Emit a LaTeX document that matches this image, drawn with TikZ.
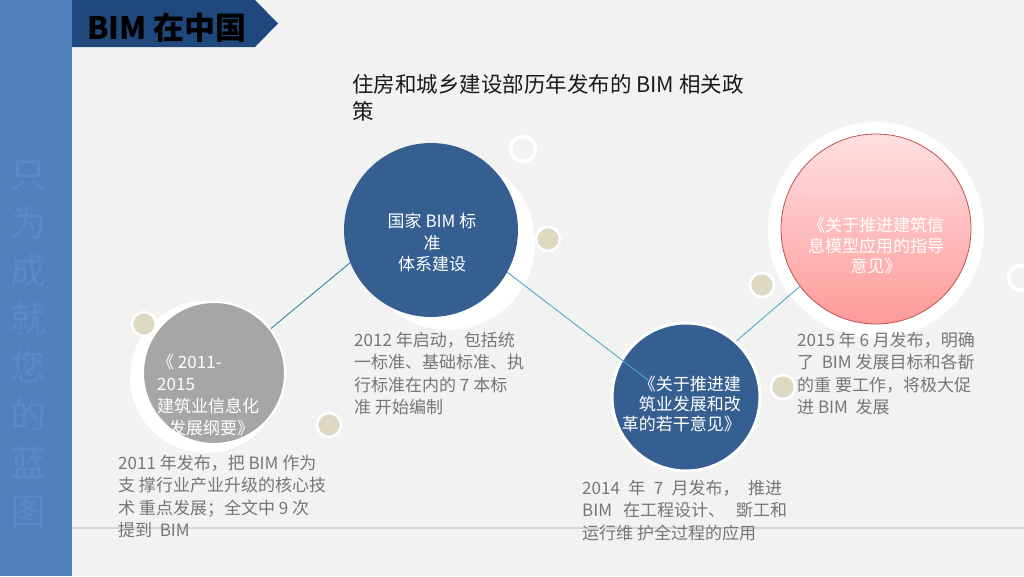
\documentclass[tikz,border=0pt]{standalone}
\usepackage{fontspec}
\setmainfont{Noto Sans CJK SC}
\definecolor{bg}{HTML}{F2F2F2}
\definecolor{stripblue}{HTML}{4F81BD}
\definecolor{bannerblue}{HTML}{1F497D}
\definecolor{vtext}{HTML}{5889CC}
\definecolor{circblue}{HTML}{365F91}
\definecolor{circgray}{HTML}{A6A6A6}
\definecolor{beige}{HTML}{DDD9C3}
\definecolor{pinktop}{HTML}{FFE0E0}
\definecolor{pinkbot}{HTML}{FF9A9A}
\definecolor{pinkborder}{HTML}{C0504D}
\definecolor{lineteal}{HTML}{4BACC6}
\definecolor{linedark}{HTML}{31859C}
\definecolor{txtgray}{HTML}{767676}
\definecolor{subtxt}{HTML}{1A1A1A}
\definecolor{sepline}{HTML}{D6D6D6}
\begin{document}
\begin{tikzpicture}[x=1pt,y=-1pt,
  dot/.style={circle,inner sep=0pt,minimum size=24pt,fill=beige,draw=white,line width=2.5pt},
  ring/.style={circle,inner sep=0pt,minimum size=25pt,draw=white,line width=3.5pt},
  halo/.style={circle,inner sep=0pt,fill=white},
  bigc/.style={circle,inner sep=0pt},
  desc/.style={font=\fontsize{17}{22.5}\selectfont,text=txtgray,align=left,inner sep=0pt,anchor=north west},
  lab/.style={text=white,inner sep=0pt},
  conn/.style={line width=0.9pt}]
\useasboundingbox (0,0) rectangle (1024,576);
\fill[bg] (0,0) rectangle (1024,576);
% left strip and banner
\fill[stripblue] (0,0) rectangle (72,576);
\fill[bannerblue] (72,0) -- (255,0) -- (278,23.5) -- (255,47) -- (72,47) -- cycle;
\node[font=\fontsize{36}{48}\selectfont,text=vtext,align=center,inner sep=0pt] (vt) at (28,344) {只\\为\\成\\就\\您\\的\\蓝\\图};
\node[anchor=base west,inner sep=0pt,font=\bfseries\fontsize{31}{36}\selectfont,text=black] (title) at (87,39) {BIM 在中国};
% separator line
\draw[sepline,line width=2pt] (72,528) -- (1024,528);
% subtitle
\node[anchor=north west,inner sep=0pt,font=\fontsize{21.5}{27}\selectfont,text=subtxt,align=left] (sub) at (352,74.5) {住房和城乡建设部历年发布的 BIM 相关政\\策};
% halos
\node[halo,minimum size=152pt] (gh) at (206,377) {};
\node[halo,minimum size=174pt] (b1h) at (448,243) {};
\node[halo,minimum size=216pt] (ph) at (876,230) {};
% main circles
\node[bigc,fill=circgray,draw=white,line width=2pt,minimum size=142pt] (g) at (214,373) {};
\node[bigc,fill=circblue,minimum size=174pt] (b1) at (431,230) {};
\node[bigc,fill=circblue,draw=white,line width=3pt,minimum size=148pt] (b2) at (686,397) {};
\node[bigc,top color=pinktop,bottom color=pinkbot,draw=pinkborder,line width=0.8pt,minimum size=190pt] (p) at (876,229) {};
% small decorative circles
\node[dot] (d1) at (144,324) {};
\node[dot] (d2) at (329,425) {};
\node[ring] (r1) at (523,149) {};
\node[dot] (d3) at (548,239) {};
\node[dot] (d4) at (762,285) {};
\node[dot] (d5) at (783,387) {};
\node[ring] (r2) at (1021,278) {};
% connectors
\coordinate (c2) at (648,380);
\draw[conn,draw=linedark] (g.38) -- (b1.202);
\draw[conn,draw=lineteal] (b1.331) -- (c2);
\draw[conn,draw=lineteal] (b2.48) -- (p.217);
% circle labels
\node[lab,align=left,anchor=north west,font=\fontsize{17}{22}\selectfont] (gl) at (157,354) {《 2011-\\2015\\建筑业信息化\\\hspace*{12pt}发展纲要》};
\node[lab,align=center,anchor=north,font=\fontsize{17}{21.5}\selectfont] (b1l) at (432,213) {国家 BIM 标\\准\\体系建设};
\node[lab,align=right,anchor=north east,font=\fontsize{17}{20}\selectfont] (b2l) at (741,376) {《关于推进建\\筑业发展和改\\革的若干意见》};
\node[lab,align=center,anchor=north,font=\fontsize{17}{20.5}\selectfont] (pl) at (876,217) {《关于推进建筑信\\息模型应用的指导\\意见》};
% descriptions
\node[desc] (t1) at (118,454.5) {2011 年发布，把 BIM 作为\\支 撑行业产业升级的核心技\\术 重点发展；全文中 9 次\\提到\ \ BIM};
\node[desc] (t2) at (354,331.5) {2012 年启动，包括统\\一标准、基础标准、执\\行标准在内的 7 本标\\准 开始编制};
\node[desc] (t3) at (582,479.5) {\makebox[200pt][s]{2014 年 7 月发布， 推进}\\\makebox[205pt][s]{BIM 在工程设计、 斲工和}\\运行维 护全过程的应用};
\node[desc] (t4) at (797,331.5) {2015 年 6 月发布，明确\\了\ \ BIM 发展目标和各斱\\的重 要工作，将极大促\\进 BIM\ \ 发展};
\end{tikzpicture}
\end{document}
